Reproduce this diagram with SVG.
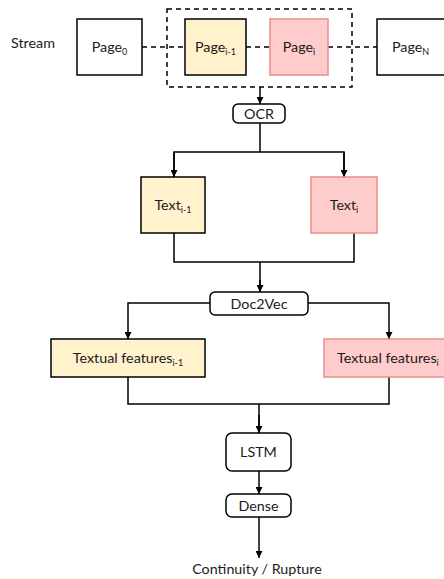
<svg xmlns="http://www.w3.org/2000/svg" width="444" height="579" viewBox="0 0 444 579">
<style>
text{font-family:Lato,"Open Sans","Liberation Sans",sans-serif;font-size:14.3px;fill:#1a1a1a}
.sub{font-size:9px}
.box{fill:#fff;stroke:#000;stroke-width:1.5}
.yel{fill:#fff2cc;stroke:#000;stroke-width:1.5}
.pink{fill:#ffcccc;stroke:#ea8c8c;stroke-width:1.5}
.ln{fill:none;stroke:#000;stroke-width:1.5}
.dash{fill:none;stroke:#000;stroke-width:1.5;stroke-dasharray:5,4}
</style>
<defs>
<marker id="ah" viewBox="0 0 10 10" refX="10" refY="5" markerWidth="7" markerHeight="7" orient="auto" markerUnits="userSpaceOnUse"><path d="M0,0 L10,5 L0,10 z" fill="#000"/></marker>
</defs>
<text x="11" y="48">Stream</text>
<g id="connectors">
<path class="dash" d="M142,47 H185 M246,47 H270 M328,47 H377"/>
<rect class="dash" x="167" y="9" width="185" height="78"/>
<path class="ln" d="M260,87 V104" marker-end="url(#ah)"/>
<path class="ln" d="M260,123 V152 H174 V177 M260,152 H344 V177"/>
<path class="ln" d="M174,152 V177" marker-end="url(#ah)"/>
<path class="ln" d="M344,152 V177" marker-end="url(#ah)"/>
<path class="ln" d="M174,233 V262 H354 V233 M260,262 V292"/>
<path class="ln" d="M260,280 V292" marker-end="url(#ah)"/>
<path class="ln" d="M210,303 H128 V339" marker-end="url(#ah)"/>
<path class="ln" d="M308,303 H389 V339" marker-end="url(#ah)"/>
<path class="ln" d="M128,377 V404 H389 V377 M259,404 V433"/>
<path class="ln" d="M259,415 V433" marker-end="url(#ah)"/>
<path class="ln" d="M259,471 V494" marker-end="url(#ah)"/>
<path class="ln" d="M259,517 V558" marker-end="url(#ah)"/>
</g>
<g id="page0"><rect class="box" x="77" y="19" width="65" height="56"/><text x="109.5" y="52" text-anchor="middle">Page<tspan class="sub" dy="3">0</tspan></text></g>
<g id="pageim1"><rect class="yel" x="185" y="19" width="61" height="56"/><text x="215.5" y="52" text-anchor="middle">Page<tspan class="sub" dy="3">i-1</tspan></text></g>
<g id="pagei"><rect class="pink" x="270" y="19" width="58" height="56"/><text x="299" y="52" text-anchor="middle">Page<tspan class="sub" dy="3">i</tspan></text></g>
<g id="pageN"><rect class="box" x="377" y="19" width="80" height="56"/><text x="392" y="52">Page<tspan class="sub" dy="3">N</tspan></text></g>
<g id="ocr"><rect class="box" x="233" y="104" width="52" height="19" rx="5"/><text x="259" y="119" text-anchor="middle">OCR</text></g>
<g id="textim1"><rect class="yel" x="141" y="177" width="64" height="56"/><text x="173" y="210" text-anchor="middle">Text<tspan class="sub" dy="3">i-1</tspan></text></g>
<g id="texti"><rect class="pink" x="311" y="177" width="66" height="56"/><text x="344" y="210" text-anchor="middle">Text<tspan class="sub" dy="3">i</tspan></text></g>
<g id="doc2vec"><rect class="box" x="210" y="292" width="98" height="23" rx="5"/><text x="259" y="308.5" text-anchor="middle">Doc2Vec</text></g>
<g id="tfim1"><rect class="yel" x="51" y="339" width="154" height="38"/><text x="128" y="363" text-anchor="middle">Textual features<tspan class="sub" dy="3">i-1</tspan></text></g>
<g id="tfi"><rect class="pink" x="324" y="339" width="140" height="38"/><text x="337" y="363">Textual features<tspan class="sub" dy="3">i</tspan></text></g>
<g id="lstm"><rect class="box" x="226" y="433" width="65" height="38" rx="6"/><text x="258.5" y="457" text-anchor="middle">LSTM</text></g>
<g id="dense"><rect class="box" x="226" y="494" width="65" height="23" rx="6"/><text x="258.5" y="510.5" text-anchor="middle">Dense</text></g>
<text x="257" y="574" text-anchor="middle">Continuity / Rupture</text>
</svg>
